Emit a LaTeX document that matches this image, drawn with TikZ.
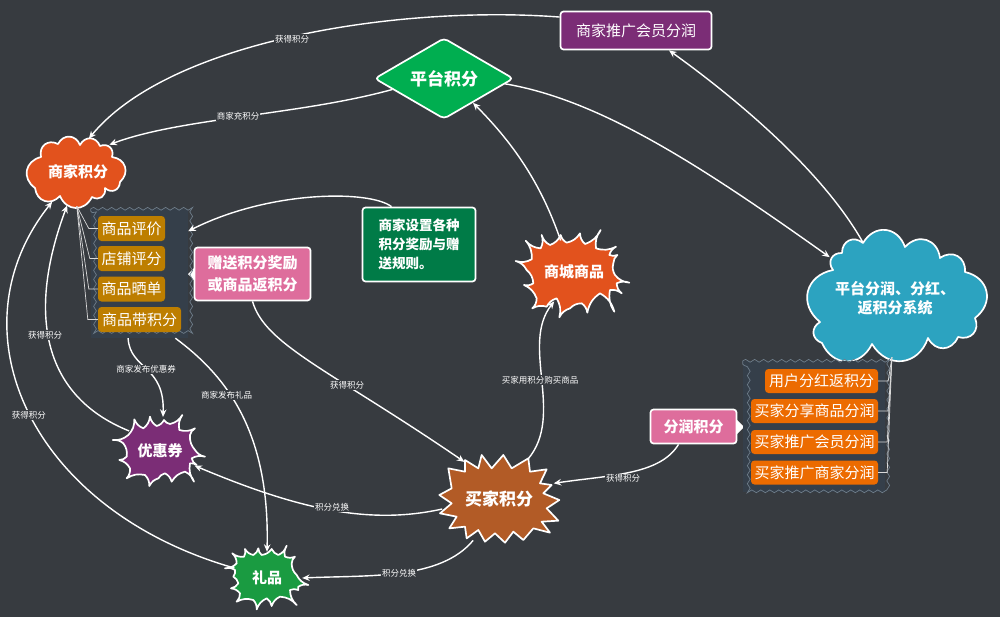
\documentclass[tikz,border=0pt]{standalone}
\usepackage{fontspec}
\setmainfont{Noto Sans CJK SC}
\usetikzlibrary{shapes.geometric,arrows.meta,decorations.pathmorphing}
\definecolor{bgc}{HTML}{373B40}
\definecolor{orangered}{HTML}{E2521D}
\definecolor{cblue}{HTML}{2CA3C0}
\definecolor{cpurple}{HTML}{7B2D76}
\definecolor{cgreen}{HTML}{00AE50}
\definecolor{cdgreen}{HTML}{007B47}
\definecolor{cpink}{HTML}{DE6D9C}
\definecolor{cgold}{HTML}{BD7E00}
\definecolor{corange}{HTML}{EC6B00}
\definecolor{cbrown}{HTML}{B25B26}
\definecolor{cgift}{HTML}{1A9B41}
\definecolor{cgroup}{HTML}{353F4A}
\definecolor{cgborder}{HTML}{6E7D8A}
\tikzset{
  outline/.style={draw=white,line width=1.7pt,line join=round},
  bump/.style={bend left=65,looseness=1.35},
  spk/.style={bend right=22},
  hit/.style={ellipse,inner sep=0pt,text=white,font=\bfseries\fontsize{15pt}{19pt}\selectfont,align=center},
  boxed/.style={rectangle,rounded corners=3pt,outline,text=white,inner sep=0pt,align=center,font=\fontsize{15pt}{19pt}\selectfont},
  item/.style={rectangle,rounded corners=3.5pt,fill=#1,text=white,inner sep=0pt,font=\fontsize{15pt}{19pt}\selectfont},
  grp/.style={rectangle,fill=cgroup,inner sep=0pt},
  wavy/.style={draw=cgborder,line width=0.7pt,decorate,decoration={snake,amplitude=1.4pt,segment length=9pt}},
  link/.style={draw=white,line width=1.4pt,-{Stealth[length=7.5pt,width=6.5pt,inset=2.5pt]}},
  treeline/.style={draw=white!85!black,line width=0.7pt},
  lbl/.style={fill=bgc,text=white,inner sep=0.8pt,font=\fontsize{8.5pt}{10pt}\selectfont},
}
\begin{document}
\begin{tikzpicture}[x=1pt,y=-1pt]
\useasboundingbox (0,0) rectangle (1000,616);
\fill[bgc] (-3,-3) rectangle (1003,619);

% merchant cloud
\path[fill=orangered,outline] (35,188) to[bump] (41,157) to[bump] (58,144) to[bump] (80,145) to[bump] (100,146) to[bump] (112,157) to[bump] (120,182) to[bump] (105,188) to[bump] (92,197) to[bump] (60,196) to[bump] (35,188) -- cycle;
% platform cloud
\path[fill=cblue,outline] (820,322) to[bump] (833,270) to[bump] (842,253) to[bump] (863,243) to[bump] (905,247) to[bump] (940,258) to[bump] (965,272) to[bump] (975,318) to[bump] (958,337) to[bump] (928,338) to[bump] (872,344) to[bump] (822,343) to[bump] (820,322) -- cycle;

% shop burst
\begin{scope}[shift={(350,0)},scale=1/3]
\path[fill=orangered,outline] (497,783) to[spk] (545,778) to[spk] (527,722) to[spk] (572,745) to[spk] (575,705) to[spk] (600,735) to[spk] (632,705) to[spk] (650,728) to[spk] (690,700) to[spk] (705,732) to[spk] (752,690) to[spk] (738,745) to[spk] (798,740) to[spk] (778,765) to[spk] (802,765) to[spk] (790,790) to[spk] (795,825) to[spk] (838,848) to[spk] (800,850) to[spk] (815,880) to[spk] (780,870) to[spk] (793,935) to[spk] (750,880) to[spk] (712,938) to[spk] (695,910) to[spk] (660,925) to[spk] (628,952) to[spk] (620,895) to[spk] (590,920) to[spk] (547,925) to[spk] (560,895) to[spk] (522,855) to[spk] (550,850) to[spk] (530,810) to[spk] (497,783) -- cycle;
\end{scope}
% coupon, gift, buyer bursts
\begin{scope}[shift={(90,400)},scale=1/3]
\path[fill=cpurple,outline] (68,120) to[spk] (115,105) to[spk] (133,58) to[spk] (160,85) to[spk] (180,50) to[spk] (200,78) to[spk] (222,60) to[spk] (240,72) to[spk] (277,45) to[spk] (268,90) to[spk] (315,85) to[spk] (300,105) to[spk] (315,150) to[spk] (345,170) to[spk] (305,175) to[spk] (320,195) to[spk] (300,190) to[spk] (312,245) to[spk] (285,215) to[spk] (245,245) to[spk] (225,220) to[spk] (205,235) to[spk] (178,258) to[spk] (165,225) to[spk] (110,235) to[spk] (120,205) to[spk] (88,180) to[spk] (110,170) to[spk] (100,130) to[spk] (68,120) -- cycle;
\path[fill=cgift,outline] (405,505) to[spk] (440,490) to[spk] (427,460) to[spk] (462,470) to[spk] (465,447) to[spk] (490,465) to[spk] (505,445) to[spk] (515,465) to[spk] (545,447) to[spk] (565,465) to[spk] (590,437) to[spk] (585,470) to[spk] (615,470) to[spk] (605,490) to[spk] (620,525) to[spk] (655,555) to[spk] (625,560) to[spk] (625,570) to[spk] (600,570) to[spk] (620,615) to[spk] (570,590) to[spk] (545,618) to[spk] (530,595) to[spk] (500,628) to[spk] (490,600) to[spk] (440,605) to[spk] (450,580) to[spk] (423,565) to[spk] (445,550) to[spk] (430,530) to[spk] (435,510) to[spk] (405,505) -- cycle;
\path[fill=cbrown,outline] (1048,285)--(1085,265)--(1075,205)--(1125,215)--(1125,180)--(1165,205)--(1175,165)--(1205,205)--(1240,165)--(1265,205)--(1315,175)--(1320,215)--(1370,208)--(1350,250)--(1385,255)--(1360,280)--(1408,300)--(1370,325)--(1405,362)--(1355,365)--(1380,398)--(1330,385)--(1300,420)--(1270,395)--(1245,428)--(1215,400)--(1185,425)--(1165,390)--(1130,415)--(1125,380)--(1078,385)--(1100,350)--(1050,340)--(1085,310)--cycle;
\end{scope}

% callout pointers
\fill[white] (188,274) -- (196,266) -- (196,282) -- cycle;
\fill[white] (744,427) -- (736,419) -- (736,435) -- cycle;

% groups
\node[grp,minimum width=97pt,minimum height=129pt] (lg) at (139.5,273.5) {};
\draw[wavy] (lg.north west) -- (lg.north east) -- (lg.south east) -- (lg.south west) -- cycle;
\node[grp,minimum width=142pt,minimum height=131pt] (rg) at (814,426.5) {};
\draw[wavy] (rg.north west) -- (rg.north east) -- (rg.south east) -- (rg.south west) -- cycle;

% text-bearing shapes
\node[hit,minimum width=104pt,minimum height=68pt] (mc) at (78,172) {商家积分};
\node[hit,minimum width=180pt,minimum height=118pt] (pc) at (895,298) {平台分润、分红、\\返积分系统};
\node[diamond,fill=cgreen,outline,rounded corners=4pt,aspect=1.7,inner sep=0pt,minimum width=139pt,minimum height=81pt,text=white,font=\bfseries\fontsize{17pt}{20pt}\selectfont] (pt) at (444,78.5) {平台积分};
\node[hit,minimum width=72pt,minimum height=66pt] (sh) at (574,272) {商城商品};
\node[hit,minimum width=116pt,minimum height=92pt,font=\bfseries\fontsize{17pt}{20pt}\selectfont] (bu) at (499,499) {买家积分};
\node[hit,minimum width=76pt,minimum height=68pt] (co) at (160,451) {优惠券};
\node[hit,minimum width=70pt,minimum height=52pt] (gi) at (267,578) {礼品};

\node[boxed,fill=cpurple,minimum width=151pt,minimum height=38pt] (rp) at (636,30.5) {商家推广会员分润};
\node[boxed,fill=cdgreen,minimum width=113pt,minimum height=74pt,align=left,font=\bfseries\fontsize{13.5pt}{19pt}\selectfont] (st) at (419,244.5) {商家设置各种\\积分奖励与赠\\送规则。};
\node[boxed,fill=cpink,minimum width=116pt,minimum height=53pt,font=\bfseries\fontsize{15pt}{22pt}\selectfont] (zs) at (252.5,274) {赠送积分奖励\\或商品返积分};
\node[boxed,fill=cpink,minimum width=86pt,minimum height=34pt,font=\bfseries\fontsize{15pt}{19pt}\selectfont] (fr) at (693.5,426.5) {分润积分};

\node[item=cgold,minimum width=67pt,minimum height=25pt] (a1) at (131.5,228.5) {商品评价};
\node[item=cgold,minimum width=67pt,minimum height=25pt] (a2) at (131.5,258.5) {店铺评分};
\node[item=cgold,minimum width=67pt,minimum height=25pt] (a3) at (131.5,289) {商品晒单};
\node[item=cgold,minimum width=83pt,minimum height=25pt] (a4) at (139.5,319.5) {商品带积分};

\node[item=corange,minimum width=113pt,minimum height=24pt] (r1) at (821.5,381) {用户分红返积分};
\node[item=corange,minimum width=127pt,minimum height=24pt] (r2) at (814.5,411) {买家分享商品分润};
\node[item=corange,minimum width=127pt,minimum height=24pt] (r3) at (814.5,442) {买家推广会员分润};
\node[item=corange,minimum width=127pt,minimum height=24pt] (r4) at (814.5,472.5) {买家推广商家分润};

% tree lines
\draw[treeline] (a1.west) -- ++(-9,0) -- (mc.268);
\draw[treeline] (a2.west) -- ++(-8,0) -- (mc.268);
\draw[treeline] (a3.west) -- ++(-9,0) -- (mc.268);
\draw[treeline] (a4.west) -- ++(-10,0) -- (mc.268);
\draw[treeline] (r1.east) -- ++(10,0) -- (pc.267);
\draw[treeline] (r2.east) -- ++(10,0) -- (pc.267);
\draw[treeline] (r3.east) -- ++(9,0) -- (pc.267);
\draw[treeline] (r4.east) -- ++(9,0) -- (pc.267);

% connectors
\draw[link] (rp.170) .. controls (400,5) and (170,40) .. (mc.72);
\draw[link] (pt.192) .. controls (300,115) and (180,118) .. (mc.41);
\draw[link] (pt.-5) .. controls (600,100) and (700,165) .. (pc.148);
\draw[link] (pc.120) .. controls (825,175) and (745,105) .. (rp.-31);
\draw[link] (sh.113) .. controls (540,180) and (510,140) .. (pt.-40);
\draw[link] (bu.54) .. controls (565,415) and (520,345) .. (sh.236);
\draw[link] (st.126) .. controls (370,190) and (270,190) .. (lg.41);
\draw[link] (zs.270) .. controls (265,345) and (330,370) .. (bu.133);
\draw[link] (fr.230) .. controls (660,475) and (610,475) .. (bu.16);
\draw[link] (bu.190) .. controls (370,525) and (300,510) .. (co.-23);
\draw[link] (bu.238) .. controls (440,580) and (370,575) .. (gi.0);
\draw[link] (gi.163) .. controls (30,510) and (-50,330) .. (mc.229);
\draw[link] (co.147) .. controls (40,395) and (28,310) .. (mc.252);
\draw[link] (lg.260) .. controls (130,370) and (165,365) .. (co.85);
\draw[link] (lg.-61) .. controls (225,375) and (270,430) .. (gi.90);

% labels
\node[lbl] (l1) at (292,39) {获得积分};
\node[lbl] (l2) at (238,116) {商家充积分};
\node[lbl] (l3) at (45,335) {获得积分};
\node[lbl] (l4) at (29,415) {获得积分};
\node[lbl] (l5) at (146,369.5) {商家发布优惠券};
\node[lbl] (l6) at (226.5,395) {商家发布礼品};
\node[lbl] (l7) at (347,385) {获得积分};
\node[lbl] (l8) at (332,507) {积分兑换};
\node[lbl] (l9) at (399,573) {积分兑换};
\node[lbl] (l10) at (540,380) {买家用积分购买商品};
\node[lbl] (l11) at (623,478.5) {获得积分};
\end{tikzpicture}
\end{document}
